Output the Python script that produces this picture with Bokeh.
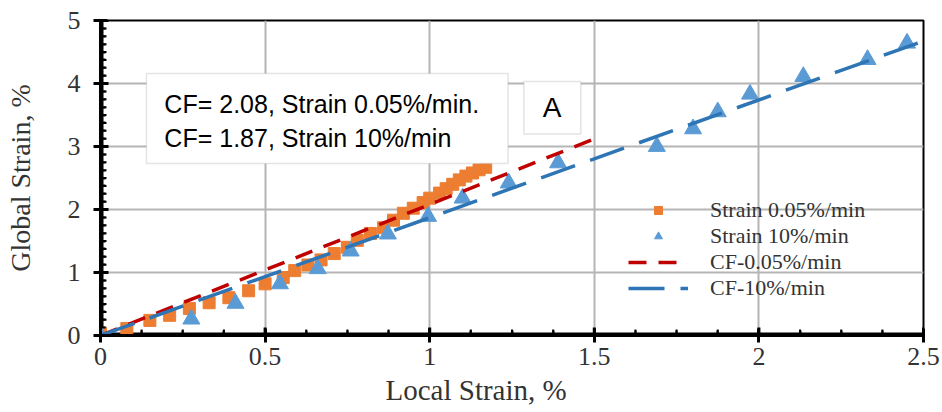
from bokeh.plotting import figure
from bokeh.models import (Range1d, FixedTicker, Legend, LegendItem, BoxAnnotation,
                          Label, LinearAxis, Grid, Title)
from bokeh.embed import file_html
from bokeh.resources import INLINE

# Measured points, strain rate 0.05 %/min
slow_x = [0.0, 0.08, 0.15, 0.21, 0.27, 0.33, 0.39, 0.45, 0.50, 0.555, 0.59, 0.63,
          0.67, 0.71, 0.75, 0.78, 0.82, 0.86, 0.89, 0.92, 0.95, 0.98, 1.0, 1.03,
          1.05, 1.07, 1.09, 1.11, 1.13, 1.15, 1.17]
slow_y = [0.03, 0.11, 0.24, 0.32, 0.43, 0.52, 0.60, 0.71, 0.82, 0.92, 1.03, 1.12,
          1.20, 1.30, 1.40, 1.51, 1.62, 1.71, 1.83, 1.94, 2.02, 2.11, 2.18, 2.26,
          2.33, 2.40, 2.47, 2.53, 2.58, 2.63, 2.67]

# Measured points, strain rate 10 %/min
fast_x = [0.0, 0.276, 0.41, 0.545, 0.66, 0.76, 0.873, 0.995, 1.10, 1.24, 1.39,
          1.69, 1.80, 1.875, 1.973, 2.135, 2.33, 2.45]
fast_y = [0.0, 0.26, 0.51, 0.82, 1.06, 1.34, 1.61, 1.89, 2.18, 2.42, 2.74,
          3.0, 3.28, 3.55, 3.83, 4.11, 4.38, 4.64]

# Correction factors (slope of global vs local strain) and fit extents
cf_slow = 2.08
cf_fast = 1.87
fit_slow_x = [0.0, 1.5]
fit_fast_x = [0.0, 2.5]

x_ticks = [0, 0.5, 1, 1.5, 2, 2.5]
x_tick_labels = ["0", "0.5", "1", "1.5", "2", "2.5"]
y_ticks = [0, 1, 2, 3, 4, 5]
y_tick_labels = ["0", "1", "2", "3", "4", "5"]

SERIF = "Liberation Serif"
SANS = "Liberation Sans"

W, H = 942, 412
BL, BR, BT, BB = 100, 19, 20, 77
X0, X1, Y0, Y1 = 0.0, 2.5, 0.0, 5.0
px_x = (W - BL - BR) / (X1 - X0)   # pixels per data unit
px_y = (H - BT - BB) / (Y1 - Y0)

p = figure(width=W, height=H, output_backend="svg", toolbar_location=None,
           x_range=Range1d(X0, X1), y_range=Range1d(Y0, Y1),
           x_axis_type=None, y_axis_type=None,
           min_border_left=BL, min_border_right=BR, min_border_top=BT,
           min_border_bottom=BB)
p.background_fill_color = "white"
p.border_fill_color = "white"
p.outline_line_color = "black"
p.outline_line_width = 2
p.xgrid.visible = False
p.ygrid.visible = False

step = 0.125
minor_x = [i * step for i in range(int(round((X1 - X0) / step)) + 1)]
minor_y = [i * step for i in range(int(round((Y1 - Y0) / step)) + 1)]

axis_style = dict(
    axis_line_width=3, axis_line_color="black",
    major_tick_line_width=3, major_tick_line_color="black",
    major_tick_in=7, major_tick_out=7,
    minor_tick_line_width=2, minor_tick_line_color="black",
    minor_tick_in=5, minor_tick_out=0,
    major_label_text_font=SERIF, major_label_text_font_size="26px",
    major_label_text_color="#333333",
)
xaxis = LinearAxis(ticker=FixedTicker(ticks=x_ticks, minor_ticks=minor_x),
                   major_label_overrides=dict(zip(x_ticks, x_tick_labels)),
                   major_label_standoff=5, **axis_style)
yaxis = LinearAxis(ticker=FixedTicker(ticks=y_ticks, minor_ticks=minor_y),
                   major_label_overrides=dict(zip(y_ticks, y_tick_labels)),
                   major_label_standoff=13,
                   axis_label="Global Strain, %", axis_label_standoff=29,
                   axis_label_text_font=SERIF, axis_label_text_font_size="28px",
                   axis_label_text_font_style="normal",
                   axis_label_text_color="#333333", **axis_style)
p.add_layout(xaxis, "below")
p.add_layout(yaxis, "left")

# x-axis title, placed from the frame's left edge
p.add_layout(Title(text="Local Strain, %", align="left", offset=285,
                   text_font=SERIF, text_font_size="29px", text_font_style="normal",
                   text_color="#333333", standoff=8), "below")

grid_style = dict(grid_line_color="#b5b5b5", grid_line_width=2)
p.add_layout(Grid(dimension=0, ticker=FixedTicker(ticks=[0.5, 1, 1.5, 2]), **grid_style))
p.add_layout(Grid(dimension=1, ticker=FixedTicker(ticks=[1, 2, 3, 4]), **grid_style))

# Axis rules and inward tick marks, drawn inside the frame
p.segment(x0=[X0, X0], y0=[Y0, Y0], x1=[X1, X0], y1=[Y0, Y1],
          line_color="black", line_width=6)
mx = [t for t in minor_x if t not in x_ticks]
my = [t for t in minor_y if t not in y_ticks]
p.segment(x0=x_ticks, y0=[Y0] * len(x_ticks), x1=x_ticks,
          y1=[Y0 + 8 / px_y] * len(x_ticks), line_color="black", line_width=3)
p.segment(x0=mx, y0=[Y0] * len(mx), x1=mx,
          y1=[Y0 + 6 / px_y] * len(mx), line_color="black", line_width=2)
p.segment(x0=[X0] * len(y_ticks), y0=y_ticks, x1=[X0 + 8 / px_x] * len(y_ticks),
          y1=y_ticks, line_color="black", line_width=3)
p.segment(x0=[X0] * len(my), y0=my, x1=[X0 + 6 / px_x] * len(my),
          y1=my, line_color="black", line_width=2)

# Measured data
sq = p.scatter(slow_x, slow_y, marker="square", size=12,
               fill_color="#ED7D31", line_color="#ED7D31")
tri = p.scatter(fast_x, fast_y, marker="triangle", size=17,
                fill_color="#5B9BD5", line_color="#5B9BD5")

# Fitted correction-factor lines
ln_slow = p.line(fit_slow_x, [cf_slow * x for x in fit_slow_x],
                 line_color="#C00000", line_width=3.5, line_dash="18 12")
ln_fast = p.line(fit_fast_x, [cf_fast * x for x in fit_fast_x],
                 line_color="#2E75B6", line_width=3.5, line_dash="36 16")

legend = Legend(items=[
    LegendItem(label="Strain 0.05%/min", renderers=[sq]),
    LegendItem(label="Strain 10%/min", renderers=[tri]),
    LegendItem(label="CF-0.05%/min", renderers=[ln_slow]),
    LegendItem(label="CF-10%/min", renderers=[ln_fast]),
], location=(528, 34))
legend.background_fill_alpha = 0
legend.border_line_alpha = 0
legend.padding = 0
legend.margin = 0
legend.spacing = 0
legend.glyph_width = 60
legend.glyph_height = 20
legend.label_height = 20
legend.label_standoff = 22
legend.label_text_font = SERIF
legend.label_text_font_size = "22px"
legend.label_text_color = "#333333"
p.add_layout(legend)

# Annotation boxes
p.add_layout(BoxAnnotation(left=0.1396, right=1.238, bottom=2.73, top=4.16,
                           fill_color="white", fill_alpha=1,
                           line_color="#a6a6a6", line_width=1.5))
p.add_layout(BoxAnnotation(left=1.286, right=1.459, bottom=3.2, top=4.03,
                           fill_color="white", fill_alpha=1,
                           line_color="#a6a6a6", line_width=1.5))

for txt, yy in ((f"CF= {cf_slow:.2f}, Strain 0.05%/min.", 3.68),
                (f"CF= {cf_fast:.2f}, Strain 10%/min", 3.14)):
    p.add_layout(Label(x=0.194, y=yy, text=txt, text_font=SANS,
                       text_font_size="25px", text_color="black",
                       text_baseline="middle", text_align="left"))
p.add_layout(Label(x=1.372, y=3.62, text="A", text_font=SANS,
                   text_font_size="28px", text_color="black",
                   text_baseline="middle", text_align="center"))

open("out.html", "w").write(file_html(p, INLINE))
